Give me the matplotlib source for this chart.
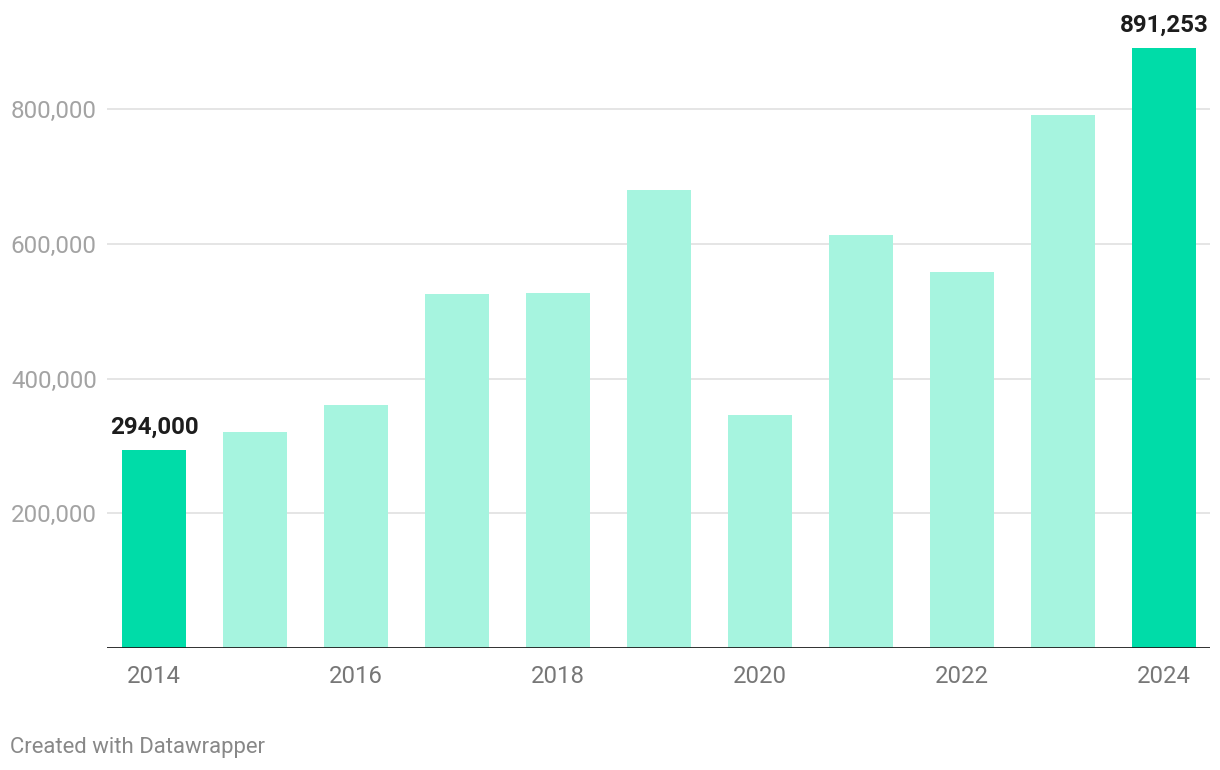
import matplotlib
matplotlib.use("Agg")
import matplotlib.pyplot as plt

years = [2014, 2015, 2016, 2017, 2018, 2019, 2020, 2021, 2022, 2023, 2024]
values = [294000, 321000, 361000, 525000, 527000, 680000, 346000, 613000, 558000, 791000, 891253]
highlight = [True, False, False, False, False, False, False, False, False, False, True]
yticks = [200000, 400000, 600000, 800000]
ytick_labels = ["200,000", "400,000", "600,000", "800,000"]
xtick_years = [2014, 2016, 2018, 2020, 2022, 2024]
footer = "Created with Datawrapper"

plt.rcParams['font.family'] = ['Roboto', 'DejaVu Sans']

W, H = 1220, 770
fig = plt.figure(figsize=(W / 100, H / 100), dpi=100)
ax_left, ax_right, ax_top, ax_bottom = 107, 1210, 20, 648
ax = fig.add_axes([ax_left / W, (H - ax_bottom) / H, (ax_right - ax_left) / W, (ax_bottom - ax_top) / H])

dark = "#00dca8"
light = "#a6f4df"
xs = list(range(len(years)))
colors = [dark if h else light for h in highlight]
ax.bar(xs, values, width=0.634, color=colors, zorder=2)

ax.set_xlim(-0.465, len(years) - 1 + 0.455)
ax.set_ylim(0, 800000 * (ax_bottom - ax_top) / (648 - 109))

for y in yticks:
    ax.axhline(y, color="#e3e3e3", lw=1.3, zorder=1)
ax.axhline(0, color="#1d1d1d", lw=2, zorder=3)

ax.set_yticks(yticks)
ax.set_yticklabels(ytick_labels, color="#a3a3a3", fontsize=17.4)
ax.tick_params(axis='y', length=0, pad=7.4)

ax.set_xticks([years.index(y) for y in xtick_years])
ax.set_xticklabels([str(y) for y in xtick_years], color="#777777", fontsize=17.2)
ax.tick_params(axis='x', length=0, pad=12)

for s in ax.spines.values():
    s.set_visible(False)

for x, v, h in zip(xs, values, highlight):
    if h:
        ax.annotate(f"{v:,}", (x, v), xytext=(0, 8), textcoords="offset points",
                    ha="center", va="bottom", fontsize=17.4, fontweight="bold", color="#1d1d1d")

fig.text(10 / W, 1 - 748 / H, footer, ha="left", va="center", fontsize=15.9, color="#888888")

fig.savefig("out.png", dpi=100, facecolor="white")
